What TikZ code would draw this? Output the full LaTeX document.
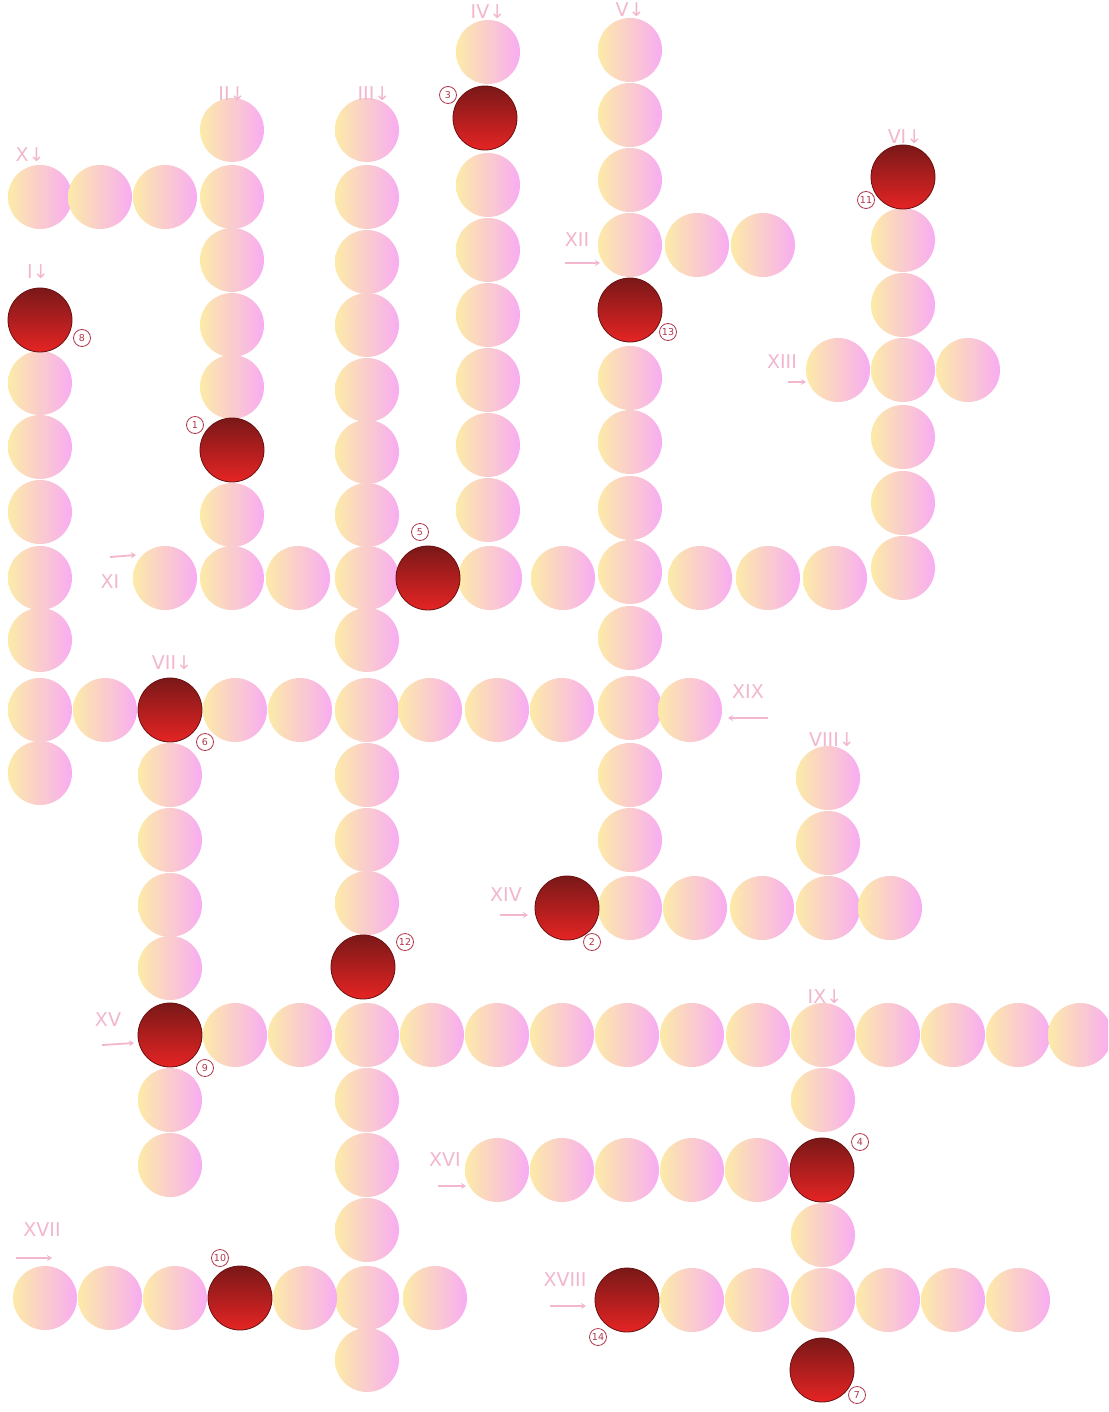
\documentclass[tikz,border=0pt]{standalone}
\usepackage{fontspec}
\setmainfont{DejaVu Sans}
\definecolor{paleL}{HTML}{FCEBA8}
\definecolor{paleR}{HTML}{F8ACF2}
\definecolor{darkT}{HTML}{7A1818}
\definecolor{darkB}{HTML}{E52424}
\definecolor{darkO}{HTML}{6A1010}
\definecolor{lblc}{HTML}{F2B6CE}
\definecolor{numc}{HTML}{B0384A}
\tikzset{
  pale/.style={circle, minimum size=64pt, inner sep=0pt, left color=paleL, right color=paleR},
  dark/.style={circle, minimum size=64pt, inner sep=0pt, top color=darkT, bottom color=darkB, draw=darkO, line width=0.8pt},
  lbl/.style={text=lblc, font=\fontsize{19}{19}\selectfont, inner sep=0pt},
  num/.style={circle, draw=numc, text=numc, line width=0.8pt, inner sep=0.6pt, minimum size=17pt, font=\fontsize{9.5}{9.5}\selectfont},
  lblarrow/.style={draw=lblc, line width=1.8pt, -{Stealth[length=5pt,width=6pt]}}
}
\usetikzlibrary{arrows.meta}
\begin{document}
\begin{tikzpicture}[x=1pt,y=-1pt]
\useasboundingbox (0,0) rectangle (1108,1412);
\fill[white] (0,0) rectangle (1108,1412);
\begin{scope}
\clip (0,0) rectangle (1108,1412);
% pale circles
\foreach \x/\y in {
 40/197,100/197,165/197,
 40/383,40/447,40/512,40/578,40/640,40/710,40/773,
 232/130,232/197,232/260,232/325,232/387,232/515,232/578,
 367/130,367/197,367/262,367/325,367/390,367/452,367/515,367/578,367/640,367/710,367/775,367/840,367/903,367/1035,367/1100,367/1165,367/1230,367/1298,367/1360,
 488/52,488/185,488/250,488/315,488/380,488/445,488/510,490/578,
 630/50,630/115,630/180,630/245,630/378,630/442,630/508,630/572,630/638,630/708,630/775,630/840,630/908,
 903/240,903/305,903/370,903/437,903/503,903/568,
 697/245,763/245,
 838/370,968/370,
 165/578,298/578,563/578,700/578,768/578,835/578,
 105/710,235/710,300/710,430/710,497/710,562/710,690/710,
 170/775,170/840,170/905,170/968,170/1100,170/1165,
 695/908,762/908,828/908,890/908,
 828/778,828/843,
 235/1035,300/1035,432/1035,497/1035,562/1035,627/1035,692/1035,758/1035,823/1035,888/1035,953/1035,1018/1035,1080/1035,
 823/1100,823/1235,823/1300,
 497/1170,562/1170,627/1170,692/1170,757/1170,
 45/1298,110/1298,175/1298,305/1298,435/1298,
 692/1300,757/1300,888/1300,953/1300,1018/1300}
 {\node[pale] (p\x-\y) at (\x,\y) {};}
\end{scope}
% dark circles with their numbers
\node[dark] (d8) at (40,320) {};
\node[dark] (d1) at (232,450) {};
\node[dark] (d3) at (485,118) {};
\node[dark] (d5) at (428,578) {};
\node[dark] (d6) at (170,710) {};
\node[dark] (d13) at (630,310) {};
\node[dark] (d11) at (903,177) {};
\node[dark] (d2) at (567,908) {};
\node[dark] (d12) at (363,967) {};
\node[dark] (d9) at (170,1035) {};
\node[dark] (d10) at (240,1298) {};
\node[dark] (d4) at (822,1170) {};
\node[dark] (d14) at (627,1300) {};
\node[dark] (d7) at (822,1370) {};
\node[num] (n8) at (82,338) {8};
\node[num] (n1) at (195,425) {1};
\node[num] (n3) at (448,95) {3};
\node[num] (n5) at (420,532) {5};
\node[num] (n6) at (205,742) {6};
\node[num] (n13) at (668,332) {13};
\node[num] (n11) at (866,200) {11};
\node[num] (n2) at (592,942) {2};
\node[num] (n12) at (405,942) {12};
\node[num] (n9) at (205,1068) {9};
\node[num] (n10) at (220,1258) {10};
\node[num] (n4) at (860,1142) {4};
\node[num] (n14) at (598,1337) {14};
\node[num] (n7) at (857,1395) {7};
% clue labels
\node[lbl] (lX) at (30,155) {X↓};
\node[lbl] (lI) at (38,272) {I↓};
\node[lbl] (lII) at (232,94) {II↓};
\node[lbl] (lIII) at (374,94) {III↓};
\node[lbl] (lIV) at (488,12) {IV↓};
\node[lbl] (lV) at (630,10) {V↓};
\node[lbl] (lVI) at (905,137) {VI↓};
\node[lbl] (lVII) at (172,663) {VII↓};
\node[lbl] (lVIII) at (832,740) {VIII↓};
\node[lbl] (lIX) at (825,997) {IX↓};
\node[lbl] (lXI) at (110,582) {XI};
\node[lbl] (lXII) at (577,240) {XII};
\node[lbl] (lXIII) at (782,362) {XIII};
\node[lbl] (lXIV) at (506,895) {XIV};
\node[lbl] (lXV) at (108,1020) {XV};
\node[lbl] (lXVI) at (445,1160) {XVI};
\node[lbl] (lXVII) at (42,1230) {XVII};
\node[lbl] (lXVIII) at (565,1280) {XVIII};
\node[lbl] (lXIX) at (748,692) {XIX};
% arrows
\coordinate (aXIa) at (110,557); \coordinate (aXIb) at (136,555);
\coordinate (aXIIa) at (565,263); \coordinate (aXIIb) at (600,263);
\coordinate (aXIIIa) at (788,382); \coordinate (aXIIIb) at (806,382);
\coordinate (aXIVa) at (500,915); \coordinate (aXIVb) at (528,915);
\coordinate (aXVa) at (102,1045); \coordinate (aXVb) at (134,1043);
\coordinate (aXVIa) at (438,1186); \coordinate (aXVIb) at (466,1186);
\coordinate (aXVIIa) at (16,1258); \coordinate (aXVIIb) at (52,1258);
\coordinate (aXVIIIa) at (550,1306); \coordinate (aXVIIIb) at (586,1306);
\coordinate (aXIXa) at (768,718); \coordinate (aXIXb) at (728,718);
\foreach \n in {XI,XII,XIII,XIV,XV,XVI,XVII,XVIII,XIX}
  {\draw[lblarrow] (a\n a) -- (a\n b);}
\end{tikzpicture}
\end{document}
